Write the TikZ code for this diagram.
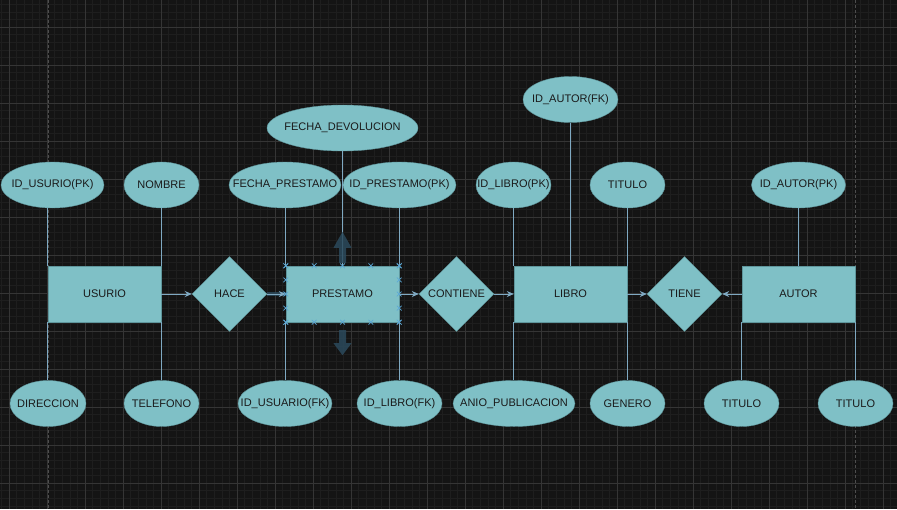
\documentclass[tikz,border=0pt]{standalone}
\usepackage{fontspec}
\setmainfont{Liberation Sans}
\usetikzlibrary{shapes.geometric,shapes.misc,arrows.meta,calc}

\definecolor{fondo}{HTML}{141414}
\definecolor{menor}{HTML}{1E1E1E}
\definecolor{mayor}{HTML}{353535}
\definecolor{pagina}{HTML}{4E4E4E}
\definecolor{forma}{HTML}{7FC0C6}
\definecolor{borde}{HTML}{5F969C}
\definecolor{linea}{HTML}{7FA9C2}
\definecolor{texto}{HTML}{1A1A1A}
\definecolor{marca}{HTML}{5CA8D6}
\definecolor{sombra}{HTML}{2B4A5C}

\tikzset{
  entidad/.style={rectangle, draw=borde, fill=forma, minimum width=113pt, minimum height=56pt, inner sep=0pt},
  relacion/.style={diamond, draw=borde, fill=forma, minimum width=75pt, minimum height=75pt, inner sep=0pt},
  atributo/.style={ellipse, draw=borde, fill=forma, minimum height=46pt, inner xsep=-15pt, inner ysep=0pt},
  conector/.style={draw=linea, line width=0.8pt},
  flechita/.style={conector, -{Stealth[length=7pt,width=6pt]}},
  asa/.style={cross out, draw=marca, line width=0.7pt, minimum size=4pt, inner sep=0pt},
}

\begin{document}
\begin{tikzpicture}[x=1pt, y=-1pt, every node/.style={text=texto, font=\fontsize{11}{13}\selectfont}]

      % fondo y rejilla
      \fill[fondo] (0,0) rectangle (897,509);
      \useasboundingbox (0,0) rectangle (897,509);
      \foreach \i in {-1,...,116} \draw[menor, line width=0.5pt] ({9+7.6*\i},0) -- ({9+7.6*\i},509);
      \foreach \j in {-3,...,63} \draw[menor, line width=0.5pt] (0,{27+7.6*\j}) -- (897,{27+7.6*\j});
      \foreach \i in {0,...,23} \draw[mayor, line width=0.7pt] ({9+38*\i},0) -- ({9+38*\i},509);
      \foreach \j in {0,...,12} \draw[mayor, line width=0.7pt] (0,{27+38*\j}) -- (897,{27+38*\j});
      \draw[pagina, line width=1pt, dash pattern=on 3pt off 2pt] (48,0) -- (48,509);
      \draw[pagina, line width=1pt, dash pattern=on 3pt off 2pt] (855,0) -- (855,509);

      % entidades y relaciones
      \node[entidad] (usurio)   at (104.5,294) {USURIO};
      \node[entidad] (prestamo) at (342.5,294) {PRESTAMO};
      \node[entidad] (libro)    at (570.5,294) {LIBRO};
      \node[entidad] (autor)    at (798.5,294) {AUTOR};
      \node[relacion] (hace)     at (229.5,294) {HACE};
      \node[relacion] (contiene) at (456.5,294) {CONTIENE};
      \node[relacion] (tiene)    at (684.5,294) {TIENE};

      % atributos de arriba
      \node[atributo, minimum width=103pt] (a1) at (52.5,185)  {ID\_USURIO(PK)};
      \node[atributo, minimum width=75pt]  (a2) at (161.5,185) {NOMBRE};
      \node[atributo, minimum width=112pt] (a3) at (285,185)   {FECHA\_PRESTAMO};
      \node[atributo, minimum width=113pt] (a4) at (399.5,185) {ID\_PRESTAMO(PK)};
      \node[atributo, minimum width=151pt] (a5) at (342.5,128) {FECHA\_DEVOLUCION};
      \node[atributo, minimum width=75pt]  (a6) at (513.5,185) {ID\_LIBRO(PK)};
      \node[atributo, minimum width=75pt]  (a7) at (627.5,185) {TITULO};
      \node[atributo, minimum width=95pt]  (a8) at (570.5,99.5) {ID\_AUTOR(FK)};
      \node[atributo, minimum width=94pt]  (a9) at (798.5,185) {ID\_AUTOR(PK)};

      % atributos de abajo
      \node[atributo, minimum width=76pt]  (b1) at (48,403.5)    {DIRECCION};
      \node[atributo, minimum width=75pt]  (b2) at (161.5,403.5) {TELEFONO};
      \node[atributo, minimum width=94pt]  (b3) at (285,403.5)   {ID\_USUARIO(FK)};
      \node[atributo, minimum width=85pt]  (b4) at (399.5,403.5) {ID\_LIBRO(FK)};
      \node[atributo, minimum width=122pt] (b5) at (514,403.5)   {ANIO\_PUBLICACION};
      \node[atributo, minimum width=75pt]  (b6) at (627.5,403.5) {GENERO};
      \node[atributo, minimum width=75pt]  (b7) at (741.5,403.5) {TITULO};
      \node[atributo, minimum width=75pt]  (b8) at (855.5,403.5) {TITULO};

      % lineas de atributos
      \path[conector] (usurio.north west) -- (a1.south -| usurio.north west);
      \path[conector] (usurio.north east) -- (a2.south -| usurio.north east);
      \path[conector] (prestamo.north west) -- (a3.south -| prestamo.north west);
      \path[conector] (prestamo.north east) -- (a4.south -| prestamo.north east);
      \path[conector] (a5) -- (prestamo);
      \path[conector] (libro.north west) -- (a6.south -| libro.north west);
      \path[conector] (libro.north east) -- (a7.south -| libro.north east);
      \path[conector] (a8) -- (libro);
      \path[conector] (a9) -- (autor);
      \path[conector] (usurio.south west) -- (b1.north -| usurio.south west);
      \path[conector] (usurio.south east) -- (b2.north -| usurio.south east);
      \path[conector] (prestamo.south west) -- (b3.north -| prestamo.south west);
      \path[conector] (prestamo.south east) -- (b4.north -| prestamo.south east);
      \path[conector] (libro.south west) -- (b5.north -| libro.south west);
      \path[conector] (libro.south east) -- (b6.north -| libro.south east);
      \path[conector] (autor.south west) -- (b7.north -| autor.south west);
      \path[conector] (autor.south east) -- (b8.north -| autor.south east);

      % flechas
      \draw[flechita] (usurio) -- (hace);
      \draw[sombra, line width=3.5pt, opacity=0.8] (hace) -- (prestamo);
      \draw[flechita] (hace) -- (prestamo);
      \draw[flechita] (prestamo) -- (contiene);
      \draw[flechita] (contiene) -- (libro);
      \draw[flechita] (libro) -- (tiene);
      \draw[flechita] (autor) -- (tiene);

      % seleccion de PRESTAMO
      \foreach \t [count=\k] in {0,0.25,0.5,0.75,1} {
        \node[asa] (hn\k) at ($(prestamo.north west)!\t!(prestamo.north east)$) {};
        \node[asa] (hs\k) at ($(prestamo.south west)!\t!(prestamo.south east)$) {};
        \node[asa] (hw\k) at ($(prestamo.north west)!\t!(prestamo.south west)$) {};
        \node[asa] (he\k) at ($(prestamo.north east)!\t!(prestamo.south east)$) {};
      }
      \fill[sombra, opacity=0.85] ($(prestamo.north)+(-3.5,-3)$) -- ++(0,-15) -- ++(-5.5,0)
        -- ++(9,-16) -- ++(9,16) -- ++(-5.5,0) -- ++(0,15) -- cycle;
      \fill[sombra, opacity=0.85] ($(prestamo.south)+(-3.5,8)$) -- ++(0,13) -- ++(-5.5,0)
        -- ++(9,12) -- ++(9,-12) -- ++(-5.5,0) -- ++(0,-13) -- cycle;

    \end{tikzpicture}
\end{document}
